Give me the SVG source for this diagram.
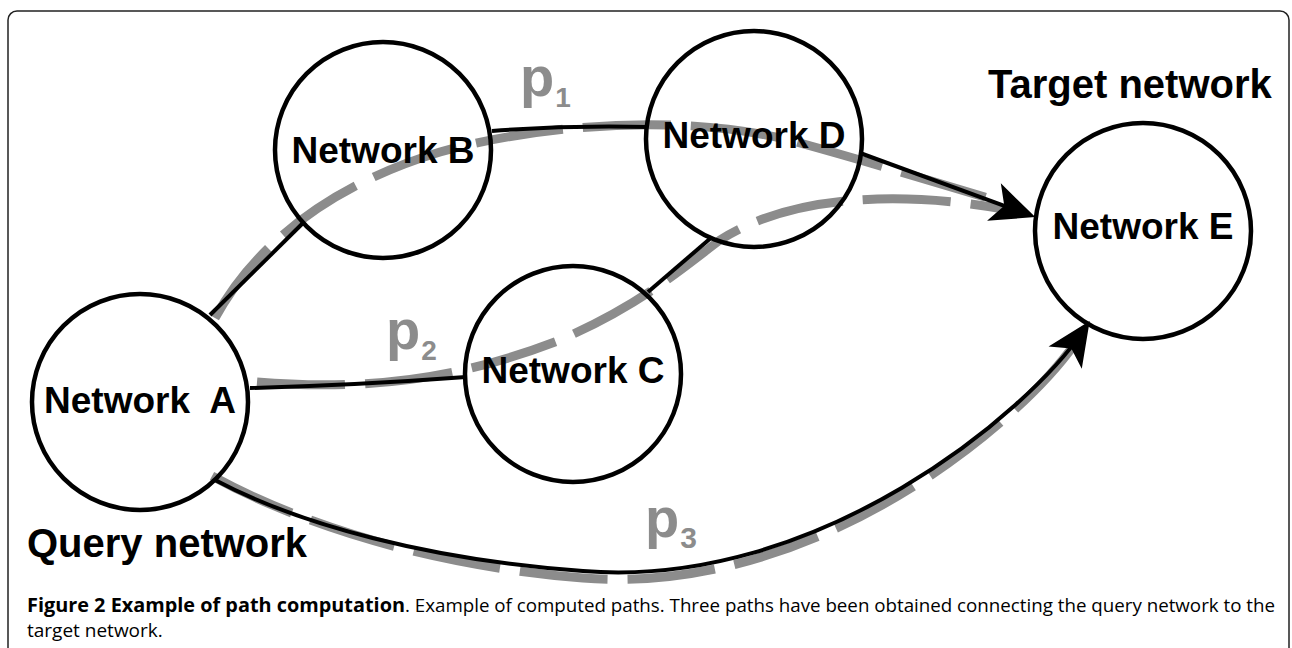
<svg xmlns="http://www.w3.org/2000/svg" width="1292" height="648" viewBox="0 0 1292 648">
<style>
.node{fill:none;stroke:#000;stroke-width:4.5}
.nlabel{font-family:"Liberation Sans",Arial,sans-serif;font-weight:bold;font-size:37px;fill:#000;text-anchor:middle}
.title{font-family:"Liberation Sans",Arial,sans-serif;font-weight:bold;font-size:40px;fill:#000}
.edge{fill:none;stroke:#000;stroke-width:4}
.path{fill:none;stroke:#8c8c8c;stroke-width:9;stroke-dasharray:88 20}
.plabel{font-family:"Liberation Sans",Arial,sans-serif;font-weight:bold;font-size:56px;fill:#8c8c8c}
.cap{font-family:"Open Sans","Noto Sans",sans-serif;font-size:19px;fill:#000}
</style>
<defs>
<marker id="arr" markerUnits="userSpaceOnUse" viewBox="-34 -22 48 44" markerWidth="48" markerHeight="44" refX="0" refY="0" orient="auto">
<path d="M12,0 L-32,-20 L-21,0 L-32,20 Z" fill="#000"/>
</marker>
</defs>
<rect x="8" y="11" width="1281" height="660" rx="9" fill="#fff" stroke="#222" stroke-width="1.5"/>
<g id="paths">
<path class="path" d="M215,318 C255,245 330,185 440,152 C540,124 690,112 800,143 C880,165 960,190 1005,203"/>
<path class="path" d="M257,382 C380,392 470,375 560,340 C640,305 680,270 720,240 C790,195 900,190 1010,210"/>
<path class="path" d="M212,476 C300,524 430,566 583,578 C820,597 1030,415 1080,336"/>
</g>
<g id="connectors">
<line class="edge" x1="210" y1="315" x2="303" y2="223"/>
<path class="edge" d="M492,131 Q570,125 648,127"/>
<path class="edge" d="M250,388 Q360,385 466,377"/>
<line class="edge" x1="648" y1="292" x2="712" y2="237"/>
<line class="edge" x1="860" y1="153" x2="1024" y2="213" marker-end="url(#arr)"/>
<path class="edge" d="M215,480 C300,525 430,560 583,571 C820,590 1030,410 1083,331" marker-end="url(#arr)"/>
</g>
<g id="nodeA"><circle class="node" cx="140" cy="402" r="108"/><text class="nlabel" x="140" y="413" xml:space="preserve">Network  A</text></g>
<g id="nodeB"><circle class="node" cx="383" cy="150" r="108"/><text class="nlabel" x="383" y="163">Network B</text></g>
<g id="nodeC"><circle class="node" cx="573" cy="374" r="108"/><text class="nlabel" x="573" y="383">Network C</text></g>
<g id="nodeD"><circle class="node" cx="754" cy="139" r="108"/><text class="nlabel" x="754" y="148">Network D</text></g>
<g id="nodeE"><circle class="node" cx="1143" cy="231" r="108"/><text class="nlabel" x="1143" y="239">Network E</text></g>
<g id="labels">
<text class="title" x="988" y="98">Target network</text>
<text class="title" x="27" y="557">Query network</text>
<text class="plabel" x="520" y="96">p<tspan font-size="28" dx="1" dy="11">1</tspan></text>
<text class="plabel" x="386" y="349">p<tspan font-size="28" dx="1" dy="11">2</tspan></text>
<text class="plabel" x="645" y="537">p<tspan font-size="30" dx="1" dy="11">3</tspan></text>
</g>
<g id="caption">
<text class="cap" x="27" y="612" font-weight="bold" textLength="378" lengthAdjust="spacingAndGlyphs">Figure 2 Example of path computation</text>
<text class="cap" x="405" y="612" textLength="870" lengthAdjust="spacingAndGlyphs">. Example of computed paths. Three paths have been obtained connecting the query network to the</text>
<text class="cap" x="27" y="637">target network.</text>
</g>
</svg>
